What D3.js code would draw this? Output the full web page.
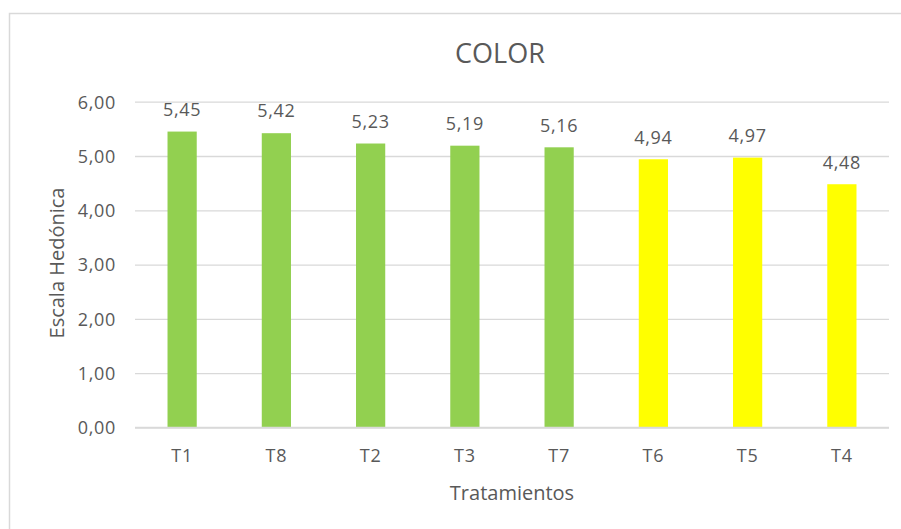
<!DOCTYPE html>
<html>
<head>
<meta charset="utf-8">
<script src="https://cdn.jsdelivr.net/npm/d3@7"></script>
<style>
  html, body { margin: 0; padding: 0; background: #fff; }
  svg { display: block; }
  text { font-family: "Open Sans", sans-serif; fill: #595959; }
</style>
</head>
<body>
<svg id="chart" width="901" height="529"></svg>
<script>
// Treatments in display order, hedonic scores and bar colour group
const categories = ["T1", "T8", "T2", "T3", "T7", "T6", "T5", "T4"];
const scores     = [5.45, 5.42, 5.23, 5.19, 5.16, 4.94, 4.97, 4.48];
const groups     = ["g", "g", "g", "g", "g", "y", "y", "y"];
const yTicks     = [0, 1, 2, 3, 4, 5, 6];

const groupColor = { g: "#92D050", y: "#FFFF00" };
const fmt = v => v.toFixed(2).replace(".", ",");

const svg = d3.select("#chart");
const W = 901, H = 529;
const plot = { left: 135, right: 889, top: 101.7, bottom: 427.5 };
const labelFont = { size: "18px", spacing: "0.7px" };

// Outer chart frame
svg.append("rect")
  .attr("x", 9.5).attr("y", 13.5)
  .attr("width", W + 20).attr("height", H + 20)
  .attr("fill", "#fff").attr("stroke", "#d9d9d9").attr("stroke-width", 1.5);

const x = d3.scaleBand()
  .domain(categories)
  .range([plot.left, plot.right])
  .paddingInner(0.69).paddingOuter(0.345);

const y = d3.scaleLinear().domain([0, 6]).range([plot.bottom, plot.top]);

// Horizontal gridlines
const grid = svg.append("g")
  .attr("transform", `translate(${plot.left},0)`)
  .call(d3.axisLeft(y).tickValues(yTicks).tickSize(-(plot.right - plot.left)).tickFormat(""));
grid.select(".domain").remove();
grid.selectAll(".tick line").attr("stroke", "#d9d9d9").attr("stroke-width", 1.3);

// Y tick labels
const yAxis = svg.append("g")
  .attr("transform", `translate(${plot.left - 19},0)`)
  .call(d3.axisLeft(y).tickValues(yTicks).tickSize(0).tickFormat(fmt));
yAxis.select(".domain").remove();
yAxis.selectAll("text")
  .attr("x", 0).attr("dy", "0.35em")
  .style("font-size", labelFont.size).style("letter-spacing", labelFont.spacing)
  .style("fill", "#595959").style("font-family", "'Open Sans', sans-serif");

// Bars
const rows = categories.map((c, i) => ({ c, v: scores[i], g: groups[i] }));
svg.append("g").selectAll("rect").data(rows).join("rect")
  .attr("x", d => x(d.c))
  .attr("width", x.bandwidth())
  .attr("y", d => y(d.v))
  .attr("height", d => y(0) - y(d.v))
  .attr("fill", d => groupColor[d.g]);

// Baseline
svg.append("line")
  .attr("x1", plot.left).attr("x2", plot.right)
  .attr("y1", y(0)).attr("y2", y(0))
  .attr("stroke", "#d9d9d9").attr("stroke-width", 1.5);

// Value labels
svg.append("g").selectAll("text").data(rows).join("text")
  .attr("x", d => x(d.c) + x.bandwidth() / 2)
  .attr("y", d => y(d.v) - 22)
  .attr("dy", "0.35em")
  .attr("text-anchor", "middle")
  .style("font-size", labelFont.size).style("letter-spacing", labelFont.spacing)
  .text(d => fmt(d.v));

// X tick labels
const xAxis = svg.append("g")
  .attr("transform", `translate(0,${plot.bottom})`)
  .call(d3.axisBottom(x).tickSize(0));
xAxis.select(".domain").remove();
xAxis.selectAll("text")
  .attr("y", 28).attr("dy", "0.35em")
  .style("font-size", labelFont.size).style("letter-spacing", labelFont.spacing)
  .style("fill", "#595959").style("font-family", "'Open Sans', sans-serif");

// Title
svg.append("text")
  .attr("x", 500).attr("y", 54).attr("dy", "0.35em")
  .attr("text-anchor", "middle")
  .style("font-size", "27px")
  .text("COLOR");

// Axis titles
svg.append("text")
  .attr("x", (plot.left + plot.right) / 2).attr("y", 493).attr("dy", "0.35em")
  .attr("text-anchor", "middle")
  .style("font-size", "20px")
  .text("Tratamientos");

svg.append("text")
  .attr("transform", `translate(57,263) rotate(-90)`)
  .attr("dy", "0.35em")
  .attr("text-anchor", "middle")
  .style("font-size", "20px")
  .text("Escala Hedónica");
</script>
</body>
</html>
